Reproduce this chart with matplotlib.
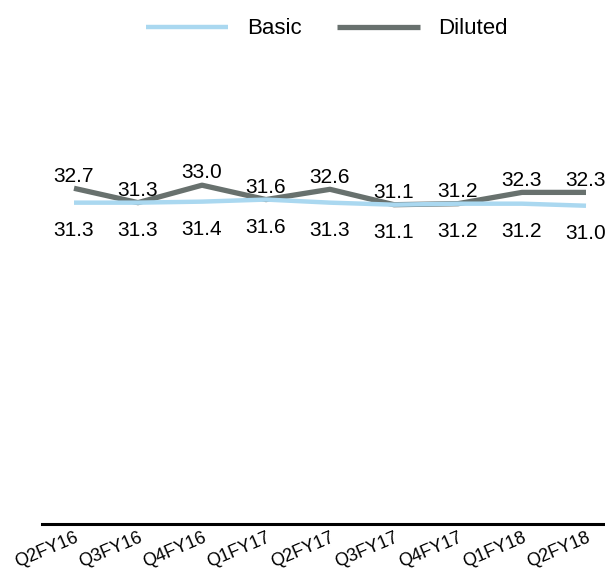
import matplotlib
matplotlib.use('Agg')
import matplotlib.pyplot as plt

# data
quarters = ['Q2FY16', 'Q3FY16', 'Q4FY16', 'Q1FY17', 'Q2FY17',
            'Q3FY17', 'Q4FY17', 'Q1FY18', 'Q2FY18']
basic = [31.3, 31.3, 31.4, 31.6, 31.3, 31.1, 31.2, 31.2, 31.0]
diluted = [32.7, 31.3, 33.0, 31.6, 32.6, 31.1, 31.2, 32.3, 32.3]

blue = '#AAD8F0'
grey = '#68716E'

plt.rcParams['font.family'] = ['Liberation Sans', 'DejaVu Sans']

fig = plt.figure(figsize=(6.05, 5.74), dpi=100)
W, H = 605, 574
# axis line sits at y=524 px, starts at x=42 px
ax = fig.add_axes([42 / W, (H - 524) / H, 576 / W, (524 - 62) / H])

x = list(range(len(quarters)))
ax.plot(x, diluted, color=grey, lw=3.8, solid_capstyle='butt', label='Diluted', zorder=2)
ax.plot(x, basic, color=blue, lw=3.2, solid_capstyle='butt', label='Basic', zorder=3)

# value labels: diluted above, basic below
for i in x:
    ax.annotate(f'{diluted[i]:.1f}', (i, diluted[i]), xytext=(0, 2),
                textcoords='offset points', ha='center', va='bottom', fontsize=15)
    ax.annotate(f'{basic[i]:.1f}', (i, basic[i]), xytext=(0, -13),
                textcoords='offset points', ha='center', va='top', fontsize=15)

ax.set_xlim(-0.5, 8.5)
ax.set_ylim(0, 45)
ax.set_xticks(x)
ax.set_xticklabels(quarters, rotation=23, ha='right', rotation_mode='anchor', fontsize=13)
ax.tick_params(axis='x', length=0, pad=4)
ax.set_yticks([])
for s in ['top', 'right', 'left']:
    ax.spines[s].set_visible(False)
ax.spines['bottom'].set_linewidth(2.2)
ax.spines['bottom'].set_color('black')

handles, labels = ax.get_legend_handles_labels()
fig.legend(handles[::-1], labels[::-1], loc='center', bbox_to_anchor=(327 / W, 1 - 29 / H),
           ncol=2, frameon=False, fontsize=16, handlelength=3.7,
           handletextpad=0.85, columnspacing=1.6)

fig.savefig('out.png', dpi=100)
